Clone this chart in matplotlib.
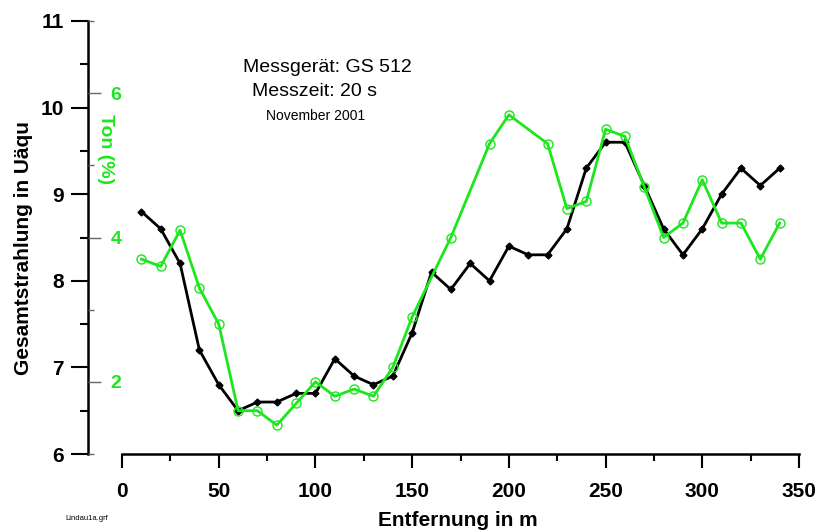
import matplotlib
matplotlib.use("Agg")
from matplotlib import pyplot as plt
from matplotlib.ticker import MultipleLocator, FixedLocator
import numpy as np

plt.rcParams['font.family'] = ['Liberation Sans', 'DejaVu Sans']

# Gesamtstrahlung (Uäqu), alle 10 m
dist = np.arange(10, 350, 10)
gamma = [8.8, 8.6, 8.2, 7.2, 6.8, 6.5, 6.6, 6.6, 6.7, 6.7,
         7.1, 6.9, 6.8, 6.9, 7.4, 8.1, 7.9, 8.2, 8.0, 8.4,
         8.3, 8.3, 8.6, 9.3, 9.6, 9.6, 9.1, 8.6, 8.3, 8.6,
         9.0, 9.3, 9.1, 9.3]

# Tongehalt (%), einige Punkte fehlen
ton_dist = [10, 20, 30, 40, 50, 60, 70, 80, 90, 100,
            110, 120, 130, 140, 150, 170, 190, 200, 220, 230,
            240, 250, 260, 270, 280, 290, 300, 310, 320, 330, 340]
ton = [3.7, 3.6, 4.1, 3.3, 2.8, 1.6, 1.6, 1.4, 1.7, 2.0,
       1.8, 1.9, 1.8, 2.2, 2.9, 4.0, 5.3, 5.7, 5.3, 4.4,
       4.5, 5.5, 5.4, 4.7, 4.0, 4.2, 4.8, 4.2, 4.2, 3.7, 4.2]

green = '#1ee61e'

fig = plt.figure(figsize=(8.22, 5.32), dpi=100)
ax = fig.add_axes([88/822, 78/532, 711/822, 433/532])

ax.plot(dist, gamma, color='black', lw=2.0, marker='D', ms=3.5, zorder=3)
ax.set_xlim(-17.6, 350)
ax.set_ylim(6, 11)

for s in ['top', 'right']:
    ax.spines[s].set_visible(False)
ax.spines['left'].set_bounds(6, 11)
ax.spines['bottom'].set_bounds(0, 350)
ax.spines['left'].set_linewidth(1.8)
ax.spines['bottom'].set_linewidth(1.8)

ax.xaxis.set_major_locator(MultipleLocator(50))
ax.xaxis.set_minor_locator(FixedLocator(np.arange(25, 350, 50)))
ax.yaxis.set_major_locator(MultipleLocator(1))
ax.yaxis.set_minor_locator(MultipleLocator(0.5))

ax.tick_params(axis='x', which='major', direction='out', length=10, width=1.5,
               pad=10, labelsize=15)
ax.tick_params(axis='x', which='minor', direction='out', length=5, width=1.5)
ax.tick_params(axis='y', which='major', direction='out', length=12.5, width=1.5,
               pad=5, labelsize=15)
ax.tick_params(axis='y', which='minor', direction='out', length=6, width=1.5)
for lbl in ax.get_xticklabels() + ax.get_yticklabels():
    lbl.set_fontweight('bold')

ax.set_xlabel('Entfernung in m', fontsize=15, fontweight='bold', va='center')
ax.xaxis.set_label_coords(0.52, -0.153)
ax.set_ylabel('Gesamtstrahlung in Uäqu', fontsize=15, fontweight='bold')
ax.yaxis.set_label_coords(-0.091, 0.476)
ax.yaxis.label.set_va('center')

# Tongehalt auf zweiter Achse, Skala innen an der linken Achse
ax2 = ax.twinx()
ax2.plot(ton_dist, ton, color=green, lw=2.0, marker='o', ms=6.5,
         mfc='none', mec=green, mew=1.0)
ax2.set_ylim(1, 7)
for s in ax2.spines.values():
    s.set_visible(False)
ax2.yaxis.set_ticks_position('left')
ax2.yaxis.set_major_locator(FixedLocator([2, 4, 6]))
ax2.yaxis.set_minor_locator(FixedLocator([1, 3, 5, 7]))
ax2.tick_params(axis='y', which='major', direction='in', length=9, width=1.0,
                color='#666666', pad=-24, labelsize=14, labelcolor=green)
ax2.tick_params(axis='y', which='minor', direction='in', length=4, width=1.0,
                color='#666666')
for lbl in ax2.get_yticklabels():
    lbl.set_fontweight('bold')
ax2.set_ylabel('Ton (%)', fontsize=14, fontweight='bold', color=green,
               rotation=270)
ax2.yaxis.set_label_position('left')
ax2.yaxis.set_label_coords(0.024, 0.704)
ax2.yaxis.label.set_va('center')
ax2.yaxis.label.set_ha('center')

ax.text(327/822, 1 - 67/532, 'Messgerät: GS 512', transform=fig.transFigure,
        ha='center', va='center', fontsize=14)
ax.text(314/822, 1 - 91/532, 'Messzeit: 20 s', transform=fig.transFigure,
        ha='center', va='center', fontsize=14)
ax.text(316/822, 1 - 115.5/532, 'November 2001', transform=fig.transFigure,
        ha='center', va='center', fontsize=10)
fig.text(87/822, 1 - 519/532, 'Lindau1a.grf', ha='center', va='center',
         fontsize=5.5)

fig.savefig('out.png', dpi=100, facecolor='white')
